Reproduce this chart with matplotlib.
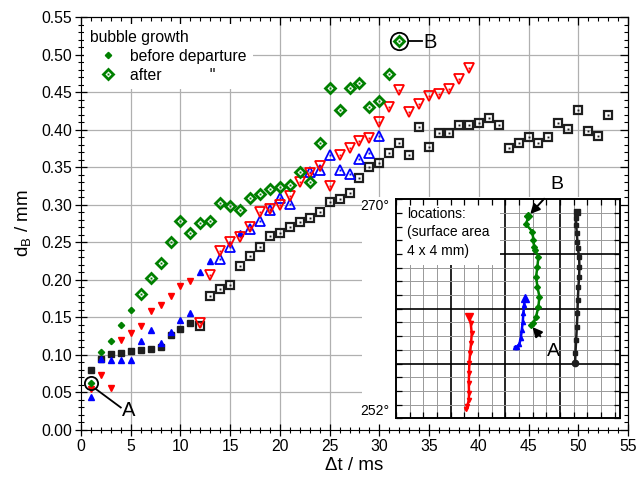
import numpy as np
import matplotlib.pyplot as plt
from matplotlib.patches import Rectangle
from matplotlib.lines import Line2D

plt.rcParams['font.family'] = ['Liberation Sans', 'DejaVu Sans']
plt.rcParams['font.size'] = 11.3
plt.rcParams['mathtext.fontset'] = 'custom'
plt.rcParams['mathtext.rm'] = 'Liberation Sans'

GREEN = '#008000'
RED = '#ff0000'
BLUE = '#0000ff'
BLACK = '#1e1e1e'

# bubble diameter d_B (mm) vs time (ms), four nucleation sites
t_black_before = [1, 2, 3, 4, 5, 6, 7, 8, 9, 10, 11]
d_black_before = [0.080, 0.095, 0.101, 0.103, 0.105, 0.107, 0.108, 0.110, 0.126, 0.135, 0.143]
t_black_after = list(range(12, 54))
d_black_after = [0.139, 0.179, 0.188, 0.193, 0.218, 0.232, 0.244, 0.258, 0.263, 0.270,
                 0.277, 0.283, 0.291, 0.304, 0.308, 0.316, 0.336, 0.350, 0.356, 0.369,
                 0.383, 0.367, 0.404, 0.377, 0.396, 0.396, 0.406, 0.406, 0.409, 0.416,
                 0.406, 0.376, 0.383, 0.391, 0.383, 0.390, 0.409, 0.401, 0.427, 0.399,
                 0.392, 0.420]

t_blue_before = [1, 2, 3, 4, 5, 6, 7, 8, 9, 10, 11, 12, 13, 16]
d_blue_before = [0.044, 0.095, 0.093, 0.093, 0.093, 0.119, 0.133, 0.116, 0.131, 0.146,
                 0.156, 0.211, 0.225, 0.262]
t_blue_after = [14, 15, 17, 18, 19, 20, 21, 23, 24, 25, 26, 27, 28, 29, 30]
d_blue_after = [0.228, 0.244, 0.268, 0.279, 0.293, 0.309, 0.301, 0.344, 0.347, 0.367,
                0.347, 0.341, 0.361, 0.369, 0.392]

t_red_before = [1, 2, 3, 4, 5, 6, 7, 8, 9, 10, 11]
d_red_before = [0.054, 0.073, 0.056, 0.120, 0.129, 0.138, 0.158, 0.167, 0.179, 0.192, 0.198]
t_red_after = list(range(12, 40))
d_red_after = [0.143, 0.206, 0.239, 0.251, 0.257, 0.271, 0.291, 0.294, 0.300, 0.312,
               0.331, 0.342, 0.352, 0.325, 0.367, 0.376, 0.385, 0.389, 0.411, 0.431,
               0.453, 0.424, 0.434, 0.445, 0.448, 0.454, 0.468, 0.482]

t_green_before = [1, 2, 3, 4, 5]
d_green_before = [0.062, 0.104, 0.119, 0.140, 0.160]
t_green_after = list(range(6, 33))
d_green_after = [0.181, 0.202, 0.223, 0.250, 0.278, 0.262, 0.276, 0.279, 0.302, 0.298,
                 0.293, 0.309, 0.315, 0.321, 0.324, 0.327, 0.344, 0.331, 0.383, 0.456,
                 0.426, 0.456, 0.462, 0.431, 0.439, 0.474, 0.518]

# bubble positions on the 4 x 4 mm surface (mm), start -> end
x_loc_red = [1.282, 1.306, 1.332, 1.337, 1.332, 1.337, 1.342, 1.355, 1.374, 1.386, 1.368, 1.342]
y_loc_red = [0.164, 0.225, 0.334, 0.457, 0.639, 0.822, 1.005, 1.187, 1.370, 1.552, 1.735, 1.845]
x_loc_blue = [2.179, 2.211, 2.258, 2.284, 2.302, 2.320, 2.332, 2.344, 2.363]
y_loc_blue = [1.297, 1.308, 1.357, 1.461, 1.613, 1.764, 1.918, 2.069, 2.192]
x_loc_green = [2.467, 2.515, 2.564, 2.606, 2.625, 2.588, 2.564, 2.588, 2.606,
               2.546, 2.527, 2.515, 2.496, 2.381, 2.423]
y_loc_green = [1.704, 1.735, 1.856, 2.038, 2.221, 2.404, 2.586, 2.769, 2.952,
               3.068, 3.134, 3.257, 3.408, 3.543, 3.695]
x_loc_black = [3.278, 3.284, 3.297, 3.310, 3.321, 3.328, 3.339, 3.352, 3.357, 3.352,
               3.328, 3.321, 3.310, 3.297, 3.297, 3.310]
y_loc_black = [1.005, 1.187, 1.430, 1.673, 1.918, 2.161, 2.404, 2.586, 2.769, 2.952,
               3.105, 3.226, 3.379, 3.531, 3.653, 3.774]

fig = plt.figure(figsize=(6.36, 4.78), dpi=100)
ax = fig.add_axes([81 / 636, 1 - 430 / 478, 547 / 636, 412.7 / 478])
ax.set_xlim(0, 55)
ax.set_ylim(0, 0.55)

xmaj = np.arange(0, 56, 5)
ymaj = np.arange(0, 0.551, 0.05)
xmin = np.arange(0, 56, 1)
ymin = np.arange(0, 0.551, 0.01)
ax.set_xticks(xmaj)
ax.set_yticks(ymaj)
ax.set_xticks(xmin, minor=True)
ax.set_yticks(ymin, minor=True)
ax.yaxis.set_major_formatter('{x:.2f}')
ax.tick_params(which='major', direction='inout', length=9, width=0.9, pad=2)
ax.tick_params(which='minor', direction='inout', length=5, width=0.8)

# top / right ticks point inward only
secx = ax.secondary_xaxis('top')
secy = ax.secondary_yaxis('right')
for sec in (secx, secy):
    sec.set_zorder(3)
secx.set_xticks(xmaj)
secx.set_xticks(xmin, minor=True)
secy.set_yticks(ymaj)
secy.set_yticks(ymin, minor=True)
secx.tick_params(which='major', direction='in', length=5.5, width=0.9, labeltop=False)
secx.tick_params(which='minor', direction='in', length=3, width=0.8)
secy.tick_params(which='major', direction='in', length=5.5, width=0.9, labelright=False)
secy.tick_params(which='minor', direction='in', length=3, width=0.8)

# grid drawn by hand so white boxes can sit on top of it
for v in xmaj[1:-1]:
    ax.axvline(v, color='#b0b0b0', lw=0.9, zorder=0.5)
for v in ymaj[1:-1]:
    ax.axhline(v, color='#b0b0b0', lw=0.9, zorder=0.5)
ax.add_patch(Rectangle((28.3, 0), 26.7, 0.311, facecolor='white', edgecolor='none', zorder=1))


def filled(t, d, marker, color, ms):
    ax.plot(t, d, ls='none', marker=marker, ms=ms, color=color, mec=color, zorder=3)


def opened(t, d, marker, color, ms, mew):
    ax.plot(t, d, ls='none', marker=marker, ms=ms, mfc='none', mec=color, mew=mew, zorder=3)
    ax.plot(t, d, ls='none', marker='s', ms=1.4, color=color, mew=0, zorder=3)


filled(t_black_before, d_black_before, 's', BLACK, 4.0)
opened(t_black_after, d_black_after, 's', BLACK, 5.3, 1.6)
filled(t_blue_before, d_blue_before, '^', BLUE, 4.8)
opened(t_blue_after, d_blue_after, '^', BLUE, 7.5, 1.3)
filled(t_red_before, d_red_before, 'v', RED, 4.8)
opened(t_red_after, d_red_after, 'v', RED, 7.5, 1.3)
filled(t_green_before, d_green_before, 'D', GREEN, 3.2)
opened(t_green_after, d_green_after, 'D', GREEN, 5.3, 2.0)

ax.set_xlabel('Δt / ms', fontsize=13.5, labelpad=2)
ax.set_ylabel('d$_\\mathrm{B}$ / mm', fontsize=13.5, labelpad=5)

# marked bubbles A (first) and B (last)
ta, da = t_green_before[0], d_green_before[0]
ax.plot([ta], [da], marker='o', ms=9.5, mfc='none', mec='black', mew=1.3, zorder=6)
ax.plot([ta + 0.45, ta + 3.0], [da - 0.007, da - 0.032], color='black', lw=1.3, zorder=6)
ax.text(ta + 3.75, da - 0.036, 'A', ha='center', va='center', fontsize=14.5, zorder=6)
tb, db = t_green_after[-1], d_green_after[-1]
ax.plot([tb], [db], marker='o', ms=12.5, mfc='none', mec='black', mew=1.3, zorder=6)
ax.plot([tb + 0.95, tb + 2.3], [db, db], color='black', lw=1.3, zorder=6)
ax.text(tb + 3.1, db - 0.002, 'B', ha='center', va='center', fontsize=14.5, zorder=6)

h_before = Line2D([], [], ls='none', marker='D', ms=3.2, color=GREEN)
h_after = (Line2D([], [], ls='none', marker='D', ms=5.3, mfc='none', mec=GREEN, mew=2.0),
           Line2D([], [], ls='none', marker='s', ms=1.4, color=GREEN, mew=0))
leg = ax.legend([h_before, h_after], ['before departure', 'after           "'],
                title='bubble growth', loc='upper left', bbox_to_anchor=(0, 0.992),
                alignment='left', frameon=True, facecolor='white', edgecolor='none',
                framealpha=1, fancybox=False, borderaxespad=0.2, borderpad=0.4,
                handlelength=2.3, handletextpad=0.25, labelspacing=0.25,
                title_fontsize=11.3)
leg.set_zorder(5)

# inset: bubble locations on the heated surface
ins = fig.add_axes([396 / 636, 1 - 418.3 / 478, 224 / 636, 219 / 478])
ins.set_xlim(0, 4.1)
ins.set_ylim(0, 4)
ins.set_xticks(np.arange(0, 4.01, 0.25))
ins.set_yticks(np.arange(0, 4.01, 0.25))
ins.tick_params(direction='in', length=4, width=0.9, top=True, right=True,
                labelbottom=False, labelleft=False)
for s in ins.spines.values():
    s.set_linewidth(1.4)
for v in np.arange(0.25, 4.01, 0.25):
    thick = abs(v - round(v)) < 1e-6 and v < 3.5
    ins.axvline(v, color='black' if thick else '#999999', lw=1.2 if thick else 0.7, zorder=0.5)
for v in np.arange(0.25, 3.9, 0.25):
    thick = abs(v - round(v)) < 1e-6
    ins.axhline(v, color='black' if thick else '#999999', lw=1.2 if thick else 0.7, zorder=0.5)
ins.add_patch(Rectangle((0, 2.8), 1.9, 1.2, facecolor='white', edgecolor='none', zorder=1))
ins.text(0.2, 3.86, 'locations:\n(surface area\n4 x 4 mm)', fontsize=10, va='top',
         ha='left', linespacing=1.4, zorder=2)
ins.text(-0.03, 1.0, '270°', transform=ins.transAxes, ha='right', va='top', fontsize=10)
ins.text(-0.03, 0.0, '252°', transform=ins.transAxes, ha='right', va='bottom', fontsize=10)

for xs, ys, m, c in [(x_loc_red, y_loc_red, 'v', RED), (x_loc_blue, y_loc_blue, '^', BLUE),
                     (x_loc_green, y_loc_green, 'D', GREEN), (x_loc_black, y_loc_black, 's', BLACK)]:
    ins.plot(xs, ys, '-', color=c, lw=1.8, marker=m, ms=3.0, zorder=3)
    ins.plot(xs[-1], ys[-1], marker=m, ms=5.5 if m in 'v^' else 4.5, color=c, zorder=4)
ins.plot(x_loc_black[0], y_loc_black[0], marker='o', ms=4.5, color=BLACK, zorder=4)

arrow = dict(arrowstyle='-|>', color='black', lw=1.4, mutation_scale=14, shrinkA=4, shrinkB=2)
ins.annotate('B', xy=(x_loc_green[-1], y_loc_green[-1]), xytext=(2.95, 4.27),
             ha='center', va='center', fontsize=14, annotation_clip=False, arrowprops=arrow)
ins.annotate('A', xy=(x_loc_green[0], y_loc_green[0]), xytext=(2.88, 1.22),
             ha='center', va='center', fontsize=14, annotation_clip=False, arrowprops=arrow)

fig.savefig('out.png', dpi=100)
